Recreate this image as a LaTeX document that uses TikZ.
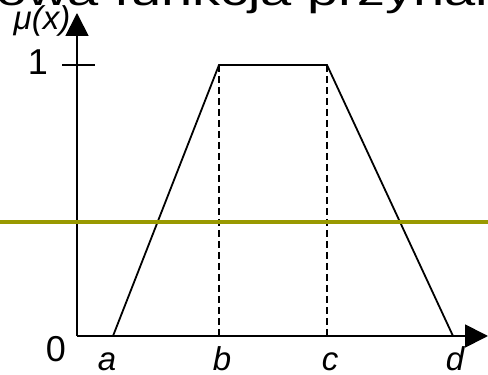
\documentclass[tikz,border=0pt]{standalone}
\usepackage{fontspec}
\setmainfont{Liberation Sans}
\usepackage{xcolor}
\usetikzlibrary{arrows.meta}

\definecolor{olivebar}{RGB}{153,153,0}

\begin{document}
\begin{tikzpicture}[
    x=1pt, y=1pt,
    axis/.style={line width=1.8pt, -{Triangle[length=23pt, width=23pt]}},
    curve/.style={line width=1.8pt, line join=miter},
    guide/.style={line width=1.6pt, dash pattern=on 7pt off 4pt},
    lbl/.style={font=\fontsize{36}{38}\selectfont, inner sep=0pt},
    ilbl/.style={font=\fontsize{33}{35}\selectfont\itshape, inner sep=0pt},
    title/.style={font=\fontsize{40}{44}\selectfont, inner sep=0pt, xscale=1.4}
]
\useasboundingbox (0,0) rectangle (488,375);

% --- TITLE (cut off by the frame) ---
\node[title, anchor=base west] (title) at (-4,369) {\llap{Trapez}owa funkcja przynależności};

% --- POINTS ---
\coordinate (O) at (77,39);
\coordinate (ytip) at (77,362);
\coordinate (xtip) at (488,39);
\coordinate (a) at (113,39);
\coordinate (b) at (219,310);
\coordinate (c) at (327,310);
\coordinate (d) at (453,39);
\coordinate (bfoot) at (219,39);
\coordinate (cfoot) at (327,39);
\coordinate (tickL) at (62,310);
\coordinate (tickR) at (95,310);
\coordinate (barL) at (0,152.5);
\coordinate (barR) at (488,152.5);

% --- AXES ---
\draw[axis] (O) -- (ytip);
\draw[axis] (O) -- (xtip);
\draw[line width=1.8pt] (tickL) -- (tickR);

% --- MEMBERSHIP FUNCTION ---
\draw[curve] (a) -- (b) -- (c) -- (d);
\draw[guide] (b) -- (bfoot);
\draw[guide] (c) -- (cfoot);

% --- LEVEL LINE ---
\draw[olivebar, line width=4pt] (barL) -- (barR);

% --- LABELS ---
\node[ilbl, anchor=base] (mu) at (42,345) {μ(x)};
\node[lbl, anchor=base] (one) at (38,300) {1};
\node[lbl, anchor=base] (zero) at (56,13) {0};
\node[ilbl, anchor=base] (la) at (107,4) {a};
\node[ilbl, anchor=base] (lb) at (222,4) {b};
\node[ilbl, anchor=base] (lc) at (330,4) {c};
\node[ilbl, anchor=base] (ld) at (455,4) {d};
\end{tikzpicture}
\end{document}
